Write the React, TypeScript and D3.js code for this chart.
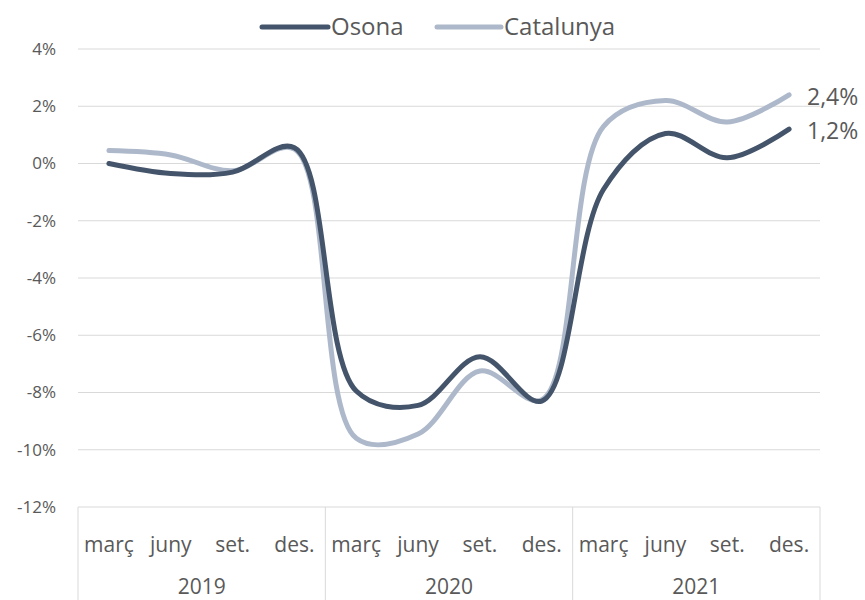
import * as d3 from "d3";

const months = ["març", "juny", "set.", "des."];
const years = ["2019", "2020", "2021"];
const osona = [0.0, -0.35, -0.3, 0.55, -7.95, -8.45, -6.75, -8.3, -0.9, 1.05, 0.2, 1.2];
const catalunya = [0.45, 0.3, -0.25, 0.5, -9.6, -9.45, -7.25, -8.25, 1.3, 2.2, 1.45, 2.4];
const yTicks = [4, 2, 0, -2, -4, -6, -8, -10, -12];

const W = 865;
const H = 600;
const left = 78;
const right = 820;
const top = 49;
const bottom = 507;
const font = "'Open Sans', Lato, sans-serif";
const textColor = "#595959";
const darkColor = "#44546A";
const lightColor = "#ADB9CA";

export default function App() {
  const n = months.length * years.length;
  const idx = d3.range(n);
  const x = d3.scaleBand<number>().domain(idx).range([left, right]);
  const cx = (i: number) => (x(i) as number) + x.bandwidth() / 2;
  const y = d3.scaleLinear().domain([-12, 4]).range([bottom, top]);
  const line = d3
    .line<number>()
    .x((_, i) => cx(i))
    .y((d) => y(d))
    .curve(d3.curveCatmullRom.alpha(0.5));
  const yearW = x.bandwidth() * months.length;
  const fmt = (v: number) => v.toFixed(1).replace(".", ",") + "%";

  return (
    <svg width={W} height={H} style={{ position: "absolute", left: 0, top: 0 }}>
      <rect width={W} height={H} fill="#fff" />
      {yTicks.map((t) => (
        <g key={t}>
          <line x1={left} x2={right} y1={y(t)} y2={y(t)} stroke="#D9D9D9" strokeWidth={1} />
          <text x={56} y={y(t)} dy="0.35em" textAnchor="end" fontFamily={font} fontSize={17} fill={textColor}>
            {t}%
          </text>
        </g>
      ))}
      {d3.range(years.length + 1).map((k) => (
        <line key={k} x1={left + k * yearW} x2={left + k * yearW} y1={bottom} y2={H} stroke="#D9D9D9" strokeWidth={1} />
      ))}
      {idx.map((i) => (
        <text key={i} x={cx(i)} y={552} textAnchor="middle" fontFamily={font} fontSize={21} fill={textColor}>
          {months[i % months.length]}
        </text>
      ))}
      {years.map((yr, k) => (
        <text key={yr} x={left + (k + 0.5) * yearW} y={594} textAnchor="middle" fontFamily={font} fontSize={21} fill={textColor}>
          {yr}
        </text>
      ))}
      <path d={line(catalunya) || ""} fill="none" stroke={lightColor} strokeWidth={5} strokeLinecap="round" />
      <path d={line(osona) || ""} fill="none" stroke={darkColor} strokeWidth={5} strokeLinecap="round" />
      <text x={807} y={y(catalunya[n - 1]) + 2} dy="0.35em" fontFamily={font} fontSize={23} fill={textColor}>
        {fmt(catalunya[n - 1])}
      </text>
      <text x={807} y={y(osona[n - 1]) + 2} dy="0.35em" fontFamily={font} fontSize={23} fill={textColor}>
        {fmt(osona[n - 1])}
      </text>
      <g fontFamily={font} fontSize={24} fill={textColor}>
        <line x1={262} x2={328} y1={27} y2={27} stroke={darkColor} strokeWidth={5} strokeLinecap="round" />
        <text x={331} y={27} dy="0.35em">Osona</text>
        <line x1={437} x2={501} y1={27} y2={27} stroke={lightColor} strokeWidth={5} strokeLinecap="round" />
        <text x={504} y={27} dy="0.35em">Catalunya</text>
      </g>
    </svg>
  );
}
